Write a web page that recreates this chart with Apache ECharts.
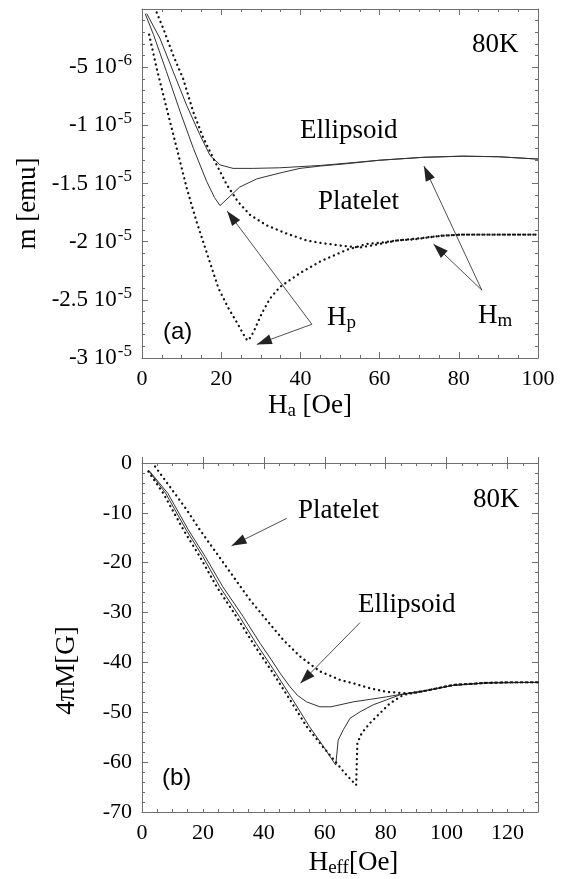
<!DOCTYPE html>
<html>
<head>
<meta charset="utf-8">
<script src="https://cdn.jsdelivr.net/npm/echarts@6.0.0/dist/echarts.min.js"></script>
<style>
  html, body { margin: 0; padding: 0; background: #fff; }
  #chart { width: 572px; height: 879px; }
</style>
</head>
<body>
<div id="chart"></div>
<script>
// ---- (a) moment m [emu] versus applied field Ha [Oe], 80 K ----
const aPlateletDeep = [
  [1.8,-0.22e-5],[3.7,-0.51e-5],[6.2,-0.85e-5],[8.8,-1.20e-5],[11.3,-1.54e-5],[13.8,-1.83e-5],
  [16.3,-2.09e-5],[19.3,-2.40e-5],[21.8,-2.57e-5],[23.9,-2.69e-5],[25.5,-2.79e-5],[26.6,-2.85e-5],
  [27.5,-2.82e-5],[28.5,-2.75e-5],[30.2,-2.62e-5],[32.3,-2.49e-5],[34.8,-2.39e-5],[36.5,-2.35e-5],
  [39.9,-2.27e-5],[45,-2.17e-5],[51.7,-2.07e-5],[56.7,-2.02e-5],[60,-2.01e-5],[64.3,-1.99e-5],
  [70.2,-1.97e-5],[75.3,-1.95e-5],[80.3,-1.94e-5],[90,-1.94e-5],[100,-1.94e-5]
];
const aPlateletUpper = [
  [3.7,-0.03e-5],[5.4,-0.17e-5],[7.9,-0.40e-5],[10.4,-0.60e-5],[12.9,-0.88e-5],[15.5,-1.11e-5],
  [18.4,-1.31e-5],[21.4,-1.51e-5],[24.3,-1.66e-5],[27.3,-1.77e-5],[31.5,-1.86e-5],[36.5,-1.93e-5],
  [41.6,-1.99e-5],[45,-2.01e-5],[51.7,-2.04e-5],[55,-2.05e-5],[60,-2.02e-5],[64.3,-1.99e-5],
  [68.7,-1.98e-5],[75.3,-1.95e-5],[80.3,-1.94e-5],[90,-1.94e-5],[100,-1.94e-5]
];
const aEllipsoidDeep = [
  [0.8,-0.04e-5],[2.9,-0.22e-5],[6.2,-0.54e-5],[9.6,-0.88e-5],[13,-1.20e-5],[16.3,-1.48e-5],
  [18.3,-1.62e-5],[19.7,-1.69e-5],[22.2,-1.61e-5],[24.7,-1.53e-5],[29,-1.46e-5],[34.8,-1.41e-5],
  [39.9,-1.37e-5],[45,-1.35e-5],[51.7,-1.33e-5],[60,-1.30e-5],[71,-1.275e-5],[81,-1.265e-5],
  [90,-1.27e-5],[100,-1.29e-5]
];
const aEllipsoidUpper = [
  [1.2,-0.04e-5],[4.5,-0.25e-5],[7.9,-0.54e-5],[11.3,-0.83e-5],[14.6,-1.08e-5],[17.2,-1.26e-5],
  [19.7,-1.34e-5],[23,-1.37e-5],[28.1,-1.37e-5],[34.8,-1.365e-5],[45,-1.345e-5],[51.7,-1.325e-5],
  [60,-1.30e-5],[71,-1.275e-5],[81,-1.265e-5],[90,-1.27e-5],[100,-1.29e-5]
];

// ---- (b) 4πM [G] versus effective field Heff [Oe], 80 K ----
const bPlateletUpper = [
  [4.3,-0.7],[9.2,-4.8],[14.7,-9.4],[19,-13.4],[24.5,-18.1],[30,-22.8],[35.5,-27.5],[40.9,-31.5],
  [46.4,-35.5],[51.9,-38.8],[58.4,-41.8],[65,-43.5],[69.4,-44.2],[75,-45.2],[80.3,-45.9],
  [86.9,-46.2],[90,-46],[94.6,-45.5],[102.2,-44.5],[113.2,-44.1],[120,-44],[130,-44]
];
const bPlateletDeep = [
  [2.1,-1.7],[7,-6.1],[13.6,-13.4],[19,-18.8],[24.5,-24.8],[31,-30.8],[36.5,-36.2],[43.1,-42.2],
  [48.6,-47.5],[54.1,-52.9],[59.5,-57.0],[63.9,-60.2],[67,-62.5],[70.3,-64.6],[70.5,-60.2],
  [70.7,-56.2],[72.1,-54.2],[74.8,-52.2],[78.1,-50.2],[81.4,-48.2],[85.8,-46.5],[91.3,-45.9],
  [96.8,-45.2],[102.2,-44.5],[113.2,-44.1],[120,-44],[130,-44]
];
const bEllipsoidDeep = [
  [2.1,-1.5],[7.8,-6.1],[14.5,-13.4],[20,-18.8],[25.5,-24.8],[32,-30.8],[37.5,-36.2],[44,-42.2],
  [49.5,-47.5],[55,-52.9],[59.5,-56.8],[63.6,-60.6],[64.4,-55.6],[66.1,-53.5],[68.3,-51.2],
  [71.6,-49.9],[75.9,-48.5],[80.3,-47.5],[84.7,-46.5],[91.3,-45.9],[96.8,-45.2],[102.2,-44.6],
  [113.2,-44.1],[130,-44]
];
const bEllipsoidUpper = [
  [2.3,-1.5],[8.5,-6.1],[15.2,-13.4],[20.8,-18.8],[26.5,-24.8],[33.2,-30.8],[38.8,-36.2],
  [42.5,-39.5],[45.5,-42.3],[48.5,-44.8],[51,-46.6],[54,-47.9],[58.4,-48.9],[62,-48.9],[65,-48.5],
  [69.4,-47.9],[75,-47.4],[80.3,-46.9],[86.9,-46.2],[94.6,-45.5],[102.2,-44.6],[113.2,-44.1],[130,-44]
];

// tick labels of the moment axis: mantissa and power of ten
const mTickValues = [-3e-5, -2.5e-5, -2e-5, -1.5e-5, -1e-5, -5e-6];
const mTickMantissa = ['-3', '-2.5', '-2', '-1.5', '-1', '-5'];
const mTickExponent = ['-5', '-5', '-5', '-5', '-5', '-6'];
const heffTickLabels = [0, 20, 40, 60, 80, 100, 120];

// arrows: [from, tip] in data coordinates
const aArrowsHp = [[[42.9,-2.71e-5],[21.5,-1.737e-5]], [[42.9,-2.71e-5],[29.0,-2.883e-5]]];
const aArrowsHm = [[[85.8,-2.416e-5],[71.2,-1.35e-5]], [[85.8,-2.416e-5],[73.6,-2.02e-5]]];
const bArrowPlatelet = [[[47.5,-11.1],[29.4,-16.6]]];
const bArrowEllipsoid = [[[71.6,-32.0],[52.0,-44.2]]];

const SERIF = 'Liberation Serif';
const SANS = 'Liberation Sans';
const FRAME = '#6e6e6e';
const HEAD = [10, 15];

function frameAxis(o) {
  return Object.assign({
    type: 'value',
    axisLine: { show: true, onZero: false, lineStyle: { color: FRAME, width: 1 } },
    splitLine: { show: false },
    axisTick: { show: true, inside: true, length: 6, lineStyle: { color: FRAME, width: 1 } },
    minorTick: { show: false },
    axisLabel: { show: false },
    nameMoveOverlap: false
  }, o);
}
function minor(n) {
  return { show: true, splitNumber: n, length: 3, lineStyle: { color: FRAME, width: 1 } };
}
const tickLabel = { show: true, color: '#000', fontFamily: SERIF, fontSize: 22, margin: 10 };
const subRich = {
  h: { fontFamily: SERIF, fontSize: 27, color: '#000', lineHeight: 30 },
  s: { fontFamily: SERIF, fontSize: 19, color: '#000', lineHeight: 12, verticalAlign: 'bottom' }
};

// straight annotation arrows with a filled head whose tip sits on the end point
function arrows(pairs) {
  return {
    silent: true,
    symbol: ['none', 'triangle'],
    symbolSize: [1, HEAD],
    symbolOffset: [[0, 0], [0, HEAD[1] / 2]],
    label: { show: false },
    lineStyle: { color: '#222', width: 0.8, type: 'solid' },
    itemStyle: { color: '#111' },
    emphasis: { disabled: true },
    data: pairs.map(p => [
      { coord: p[0] },
      { coord: p[1], symbol: 'triangle', symbolSize: HEAD, symbolOffset: [0, HEAD[1] / 2] }
    ])
  };
}
function dotted(name, data, xi, yi, extra) {
  return Object.assign({
    name, type: 'line', data, xAxisIndex: xi, yAxisIndex: yi,
    symbol: 'none', silent: true,
    lineStyle: { color: '#111', width: 2.3, type: [0.1, 5], cap: 'round' }
  }, extra || {});
}
function solid(name, data, xi, yi, extra) {
  return Object.assign({
    name, type: 'line', data, xAxisIndex: xi, yAxisIndex: yi,
    symbol: 'none', silent: true,
    lineStyle: { color: '#333', width: 1 }
  }, extra || {});
}

const chart = echarts.init(document.getElementById('chart'), null, { renderer: 'canvas' });
chart.setOption({
  animation: false,
  backgroundColor: '#fff',
  grid: [
    { left: 142, top: 9, width: 396, height: 349, outerBoundsMode: 'none' },
    { left: 142, top: 463, width: 396, height: 349, outerBoundsMode: 'none' }
  ],
  xAxis: [
    frameAxis({
      gridIndex: 0, position: 'bottom', min: 0, max: 100, interval: 20, minorTick: minor(4),
      axisLabel: tickLabel,
      name: '{h|H}{s|a}{h| [Oe]}', nameLocation: 'middle', nameGap: 33,
      nameTextStyle: { rich: subRich, padding: [0, 60, 0, 0] }
    }),
    frameAxis({ gridIndex: 0, position: 'top', min: 0, max: 100, interval: 20, minorTick: minor(4) }),
    frameAxis({
      gridIndex: 1, position: 'bottom', min: 0, max: 130, interval: 5, axisTick: { show: true, inside: true, length: 3, lineStyle: { color: FRAME } },
      axisLabel: Object.assign({}, tickLabel, {
        formatter: v => heffTickLabels.indexOf(Math.round(v)) >= 0 && Math.abs(v - Math.round(v)) < 1e-6 ? String(Math.round(v)) : ''
      }),
      name: '{h|H}{s|eff}{h|[Oe]}', nameLocation: 'middle', nameGap: 36,
      nameTextStyle: { rich: subRich, padding: [0, 0, 0, 27] }
    }),
    frameAxis({ gridIndex: 1, position: 'bottom', min: 0, max: 130, interval: 20, axisLine: { show: false } }),
    frameAxis({ gridIndex: 1, position: 'top', min: 0, max: 130, interval: 5, axisTick: { show: true, inside: true, length: 3, lineStyle: { color: FRAME } } }),
    frameAxis({ gridIndex: 1, position: 'top', min: 0, max: 130, interval: 20, axisLine: { show: false } })
  ],
  yAxis: [
    frameAxis({
      gridIndex: 0, position: 'left', min: -3e-5, max: 0, interval: 5e-6, minorTick: minor(5),
      axisLabel: Object.assign({}, tickLabel, {
        formatter: v => {
          const i = mTickValues.findIndex(t => Math.abs(t - v) < 1e-9);
          return i < 0 ? '' : '{m|' + mTickMantissa[i] + ' 10}{e|' + mTickExponent[i] + '}';
        },
        rich: {
          m: { fontFamily: SERIF, fontSize: 23, color: '#000', lineHeight: 30 },
          e: { fontFamily: SERIF, fontSize: 17, color: '#000', lineHeight: 14, verticalAlign: 'top', padding: [0, 0, 0, 1] }
        }
      }),
      name: 'm [emu]', nameLocation: 'middle', nameGap: 101,
      nameTextStyle: { fontFamily: SERIF, fontSize: 27, color: '#000', padding: [0, 40, 0, 0] }
    }),
    frameAxis({ gridIndex: 0, position: 'right', min: -3e-5, max: 0, interval: 5e-6, minorTick: minor(5) }),
    frameAxis({
      gridIndex: 1, position: 'left', min: -70, max: 0, interval: 10, minorTick: minor(5),
      axisLabel: tickLabel,
      name: '4πM[G]', nameLocation: 'middle', nameGap: 62,
      nameTextStyle: { fontFamily: SERIF, fontSize: 27, color: '#000', padding: [0, 66, 0, 0] }
    }),
    frameAxis({ gridIndex: 1, position: 'right', min: -70, max: 0, interval: 10, minorTick: minor(5) })
  ],
  series: [
    solid('Ellipsoid (a) upper', aEllipsoidUpper, 0, 0),
    solid('Ellipsoid (a) deep', aEllipsoidDeep, 0, 0, { markLine: arrows(aArrowsHm) }),
    dotted('Platelet (a) upper', aPlateletUpper, 0, 0),
    dotted('Platelet (a) deep', aPlateletDeep, 0, 0, { markLine: arrows(aArrowsHp) }),
    solid('Ellipsoid (b) upper', bEllipsoidUpper, 2, 2, { markLine: arrows(bArrowEllipsoid) }),
    solid('Ellipsoid (b) deep', bEllipsoidDeep, 2, 2),
    dotted('Platelet (b) upper', bPlateletUpper, 2, 2, { markLine: arrows(bArrowPlatelet) }),
    dotted('Platelet (b) deep', bPlateletDeep, 2, 2)
  ],
  graphic: [
    { type: 'text', silent: true, style: { text: '80K', x: 472, y: 45, fontFamily: SERIF, fontSize: 27, fill: '#000', verticalAlign: 'middle' } },
    { type: 'text', silent: true, style: { text: 'Ellipsoid', x: 300, y: 131, fontFamily: SERIF, fontSize: 27, fill: '#000', verticalAlign: 'middle' } },
    { type: 'text', silent: true, style: { text: 'Platelet', x: 318, y: 202, fontFamily: SERIF, fontSize: 27, fill: '#000', verticalAlign: 'middle' } },
    { type: 'text', silent: true, style: { text: '{h|H}{s|p}', rich: subRich, x: 327, y: 318, verticalAlign: 'middle' } },
    { type: 'text', silent: true, style: { text: '{h|H}{s|m}', rich: subRich, x: 478, y: 316, verticalAlign: 'middle' } },
    { type: 'text', silent: true, style: { text: '(a)', x: 163, y: 332, fontFamily: SANS, fontSize: 24, fill: '#000', verticalAlign: 'middle' } },
    { type: 'text', silent: true, style: { text: '80K', x: 473, y: 500, fontFamily: SERIF, fontSize: 27, fill: '#000', verticalAlign: 'middle' } },
    { type: 'text', silent: true, style: { text: 'Platelet', x: 298, y: 511, fontFamily: SERIF, fontSize: 27, fill: '#000', verticalAlign: 'middle' } },
    { type: 'text', silent: true, style: { text: 'Ellipsoid', x: 358, y: 605, fontFamily: SERIF, fontSize: 27, fill: '#000', verticalAlign: 'middle' } },
    { type: 'text', silent: true, style: { text: '(b)', x: 162, y: 778, fontFamily: SANS, fontSize: 24, fill: '#000', verticalAlign: 'middle' } }
  ]
});
</script>
</body>
</html>
